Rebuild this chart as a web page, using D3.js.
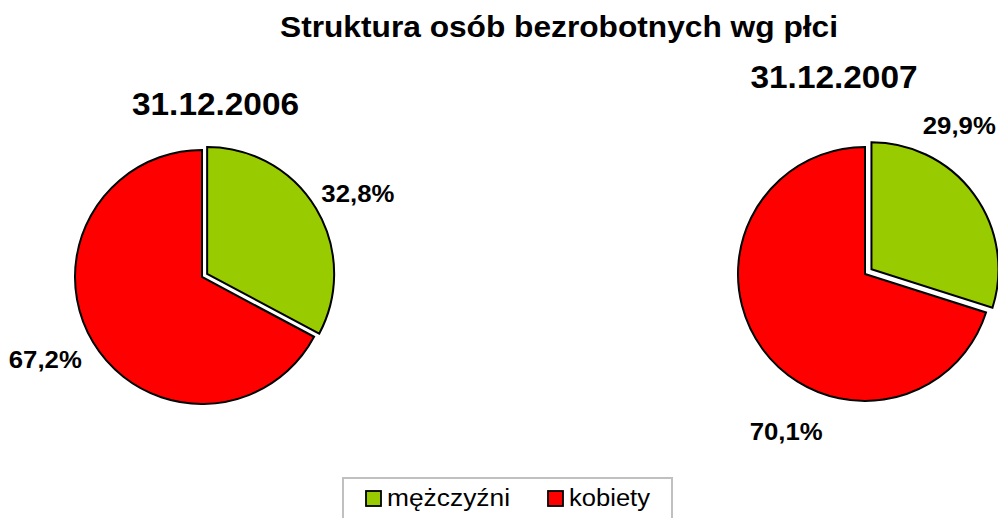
<!DOCTYPE html>
<html>
<head>
<meta charset="utf-8">
<script src="https://cdn.jsdelivr.net/npm/d3@7"></script>
<style>
  body { margin: 0; background: #fff; }
  text { font-family: "Liberation Sans", Arial, sans-serif; }
</style>
</head>
<body>
<svg id="chart" width="998" height="518"></svg>
<script>
// data
var categories = ["mężczyźni", "kobiety"];
var colors = ["#99cc00", "#ff0000"];
var dates = ["31.12.2006", "31.12.2007"];
var values2006 = [32.8, 67.2];
var values2007 = [29.9, 70.1];
var labels2006 = ["32,8%", "67,2%"];
var labels2007 = ["29,9%", "70,1%"];

var svg = d3.select("#chart");
var radius = 127;

var pie = d3.pie().sort(null).value(d => d);
var arc = d3.arc().innerRadius(0).outerRadius(radius);

// title
svg.append("text")
  .attr("x", 559)
  .attr("y", 37)
  .attr("text-anchor", "middle")
  .attr("textLength", 558)
  .attr("lengthAdjust", "spacingAndGlyphs")
  .style("font-size", "30px")
  .style("font-weight", "bold")
  .text("Struktura osób bezrobotnych wg płci");

function drawPie(values, labels, cfg) {
  var g = svg.append("g")
    .attr("transform", "translate(" + cfg.cx + "," + cfg.cy + ")");

  var arcs = pie(values);

  g.selectAll("path")
    .data(arcs)
    .enter().append("path")
    .attr("d", arc)
    .attr("transform", function (d, i) {
      if (i != 0) return null;
      var a = (d.startAngle + d.endAngle) / 2;
      return "translate(" + (Math.sin(a) * cfg.explode) + "," + (-Math.cos(a) * cfg.explode) + ")";
    })
    .attr("fill", (d, i) => colors[i])
    .attr("stroke", "#000")
    .attr("stroke-width", 2)
    .attr("stroke-linejoin", "miter");

  // percentage labels
  g.selectAll(".pct")
    .data(arcs)
    .enter().append("text")
    .attr("class", "pct")
    .attr("x", (d, i) => Math.sin(cfg.labelAngles[i] * Math.PI / 180) * cfg.labelR)
    .attr("y", (d, i) => -Math.cos(cfg.labelAngles[i] * Math.PI / 180) * cfg.labelR + 8.5)
    .attr("text-anchor", "middle")
    .attr("textLength", 73)
    .attr("lengthAdjust", "spacingAndGlyphs")
    .style("font-size", "24px")
    .style("font-weight", "bold")
    .text((d, i) => labels[i]);

  // date heading
  svg.append("text")
    .attr("x", cfg.dateX)
    .attr("y", cfg.dateY)
    .attr("text-anchor", "middle")
    .attr("textLength", 167)
    .attr("lengthAdjust", "spacingAndGlyphs")
    .style("font-size", "32px")
    .style("font-weight", "bold")
    .text(cfg.date);
}

drawPie(values2006, labels2006, {
  cx: 202, cy: 277, explode: 6, labelR: 177,
  labelAngles: [61.7, 242.3],
  date: dates[0], dateX: 215.5, dateY: 115
});

drawPie(values2007, labels2007, {
  cx: 865, cy: 274, explode: 8, labelR: 176,
  labelAngles: [32.4, 206.6],
  date: dates[1], dateX: 834, dateY: 88
});

// legend
var legend = svg.append("g");

legend.append("rect")
  .attr("x", 343)
  .attr("y", 478)
  .attr("width", 329)
  .attr("height", 60)
  .attr("fill", "#fff")
  .attr("stroke", "#c0c0c0")
  .attr("stroke-width", 2);

var legendX = [366, 548];
var legendW = [123, 81];

var items = legend.selectAll(".item")
  .data(categories)
  .enter().append("g")
  .attr("class", "item");

items.append("rect")
  .attr("x", (d, i) => legendX[i])
  .attr("y", 491)
  .attr("width", 15)
  .attr("height", 15)
  .attr("fill", (d, i) => colors[i])
  .attr("stroke", "#000")
  .attr("stroke-width", 1.8);

items.append("text")
  .attr("x", (d, i) => legendX[i] + 21)
  .attr("y", 506)
  .attr("textLength", (d, i) => legendW[i])
  .attr("lengthAdjust", "spacingAndGlyphs")
  .style("font-size", "23px")
  .text(d => d);
</script>
</body>
</html>
